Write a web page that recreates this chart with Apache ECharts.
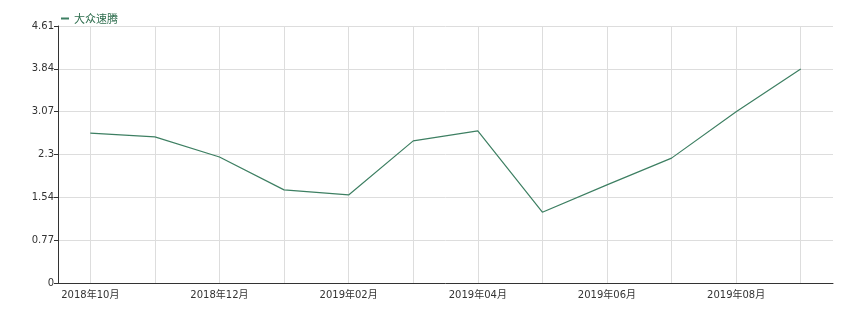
<!DOCTYPE html>
<html><head><meta charset="utf-8">
<script src="https://cdn.jsdelivr.net/npm/echarts@6/dist/echarts.min.js"></script>
<style>html,body{margin:0;padding:0;background:#fff}#c{width:852px;height:321px}</style>
</head><body><div id="c"></div>
<script>
const categories = ['2018年10月','2018年11月','2018年12月','2019年01月','2019年02月','2019年03月','2019年04月','2019年05月','2019年06月','2019年07月','2019年08月','2019年09月'];
const seriesName = '大众速腾';
const values = [2.69, 2.62, 2.26, 1.67, 1.58, 2.55, 2.73, 1.27, 1.76, 2.24, 3.07, 3.84];
const yTickLabels = ['0','0.77','1.54','2.3','3.07','3.84','4.61'];
const yMax = 4.61;

const chart = echarts.init(document.getElementById('c'));
const interval = yMax / 6;
chart.setOption({
  animation: false,
  textStyle: {fontFamily: 'Verdana, "DejaVu Sans", "Noto Sans CJK SC", sans-serif'},
  legend: {
    left: 56, top: 8, itemWidth: 8, itemHeight: 2, itemGap: 4,
    icon: 'rect',
    textStyle: {color: '#2e6e4e', fontSize: 11, fontFamily: '"Noto Sans CJK SC", sans-serif'},
    data: [seriesName]
  },
  grid: {left: 58, right: 19, top: 26, bottom: 38, containLabel: false},
  xAxis: {
    type: 'category', data: categories, boundaryGap: true,
    axisLine: {lineStyle: {color: '#333', width: 1}},
    axisTick: {alignWithLabel: true, length: 5, interval: 0, lineStyle: {color: '#333'}},
    axisLabel: {interval: 1, color: '#333', fontSize: 10, margin: 7, fontFamily: '"DejaVu Sans", "Noto Sans CJK SC", sans-serif'},
    splitLine: {show: false}
  },
  yAxis: {
    type: 'value', min: 0, max: yMax, interval: interval,
    axisLine: {show: true, lineStyle: {color: '#333', width: 1}},
    axisTick: {show: true, length: 4, lineStyle: {color: '#333'}},
    axisLabel: {color: '#333', fontSize: 10, margin: 4,
      formatter: v => yTickLabels[Math.round(v / interval)] ?? ''},
    splitLine: {show: true, lineStyle: {color: '#ddd', width: 1}}
  },
  series: [{
    name: seriesName, type: 'line', data: values, z: 3,
    symbol: 'none', lineStyle: {color: '#3d7f62', width: 1.2},
    itemStyle: {color: '#3d7f62'},
    markLine: {
      silent: true, symbol: 'none', z: 1,
      label: {show: false},
      lineStyle: {color: '#ddd', width: 1, type: 'solid'},
      data: categories.map(c => ({xAxis: c}))
    }
  }]
});
</script></body></html>
